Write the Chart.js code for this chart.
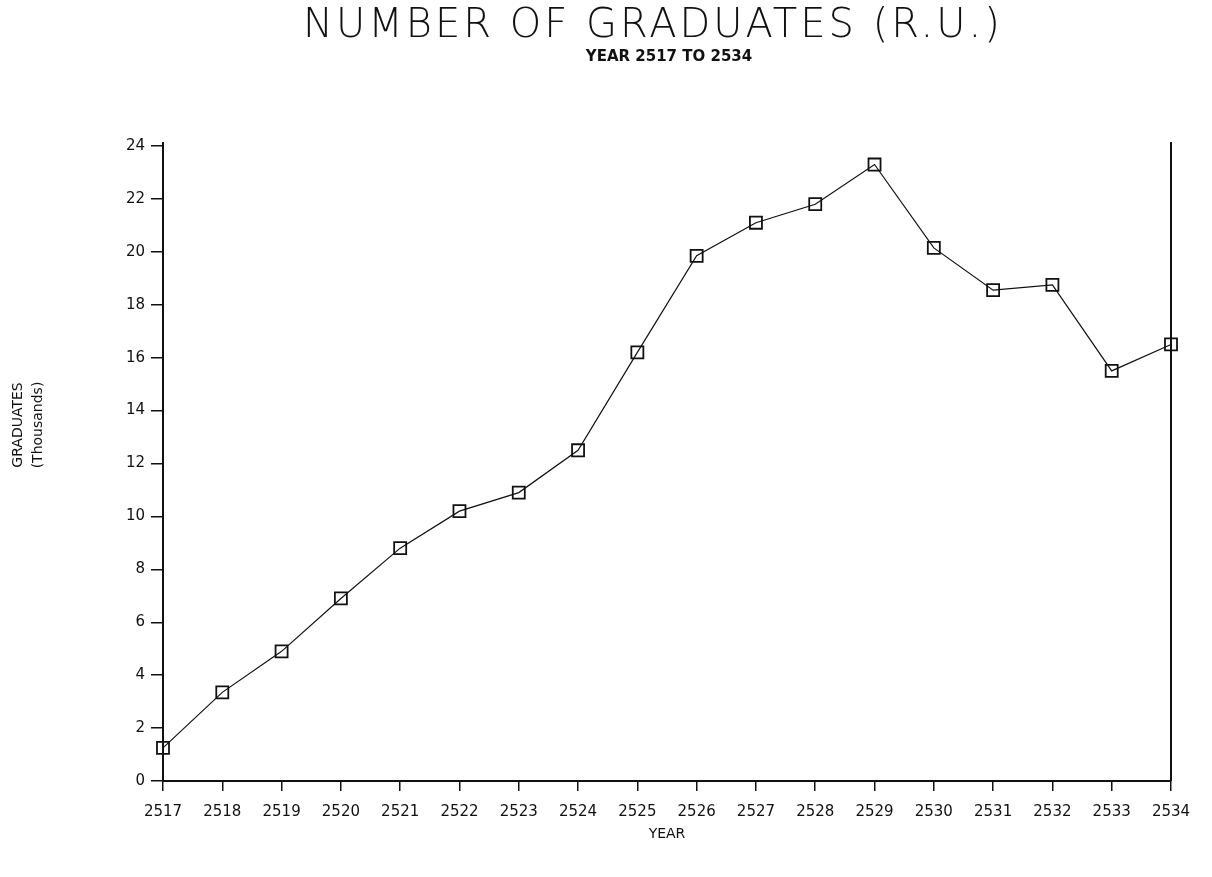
<!DOCTYPE html>
<html>
<head>
<meta charset="utf-8">
<script src="https://cdn.jsdelivr.net/npm/chart.js@4.4.0/dist/chart.umd.min.js"></script>
<style>
  html, body { margin: 0; padding: 0; background: #fff; }
  #wrap { width: 1212px; height: 877px; position: relative; }
</style>
</head>
<body>
<div id="wrap"><canvas id="gradChart"></canvas></div>
<script>
// years on the x axis
const years = ['2517', '2518', '2519', '2520', '2521', '2522', '2523', '2524', '2525',
  '2526', '2527', '2528', '2529', '2530', '2531', '2532', '2533', '2534'];
// graduates, thousands
const graduates = [1.25, 3.35, 4.9, 6.9, 8.8, 10.2, 10.9, 12.5, 16.2,
  19.85, 21.1, 21.8, 23.3, 20.15, 18.55, 18.75, 15.5, 16.5];
// y axis range
const yMin = 0;
const yMax = 24;
const yStep = 2;

const titleText = 'NUMBER OF GRADUATES (R.U.)';
const subtitleText = 'YEAR 2517 TO 2534';
const xTitleText = 'YEAR';
const yTitleLines = ['GRADUATES', '(Thousands)'];

const INK = '#111';

const GradChart = {
  /** titles and the right frame line, drawn at fixed spots */
  _decor: {
    id: 'decor',
    afterDraw(chart) {
      const { ctx, chartArea: a } = chart;
      ctx.save();
      ctx.strokeStyle = INK;
      ctx.lineWidth = 2;
      ctx.beginPath();
      ctx.moveTo(a.right, a.top - 4);
      ctx.lineTo(a.right, a.bottom);
      ctx.moveTo(a.left, a.top - 4);
      ctx.lineTo(a.left, a.top);
      ctx.stroke();

      ctx.fillStyle = INK;
      ctx.textAlign = 'center';
      ctx.textBaseline = 'middle';
      ctx.font = '200 40px "DejaVu Sans"';
      ctx.letterSpacing = '3px';
      ctx.fillText(titleText, 653, 27);

      ctx.letterSpacing = '0px';
      ctx.font = 'bold 15px "DejaVu Sans"';
      ctx.fillText(subtitleText, 669, 57);

      // rotated y title, two lines
      ctx.font = '14px "DejaVu Sans"';
      ctx.translate(18, 425);
      ctx.rotate(-Math.PI / 2);
      ctx.fillText(yTitleLines[0], 0, 0);
      ctx.fillText(yTitleLines[1], 0, 20);
      ctx.restore();
    }
  },

  render() {
    const canvas = document.getElementById('gradChart');
    const tickFont = { family: "'DejaVu Sans', sans-serif", size: 15 };

    return new Chart(canvas, {
      type: 'line',
      data: {
        labels: years,
        datasets: [{
          data: graduates,
          borderColor: INK,
          borderWidth: 1.2,
          tension: 0,
          pointStyle: 'rect',
          pointRadius: 8.5,
          pointBorderWidth: 1.8,
          pointBorderColor: INK,
          pointBackgroundColor: 'rgba(0,0,0,0)'
        }]
      },
      options: {
        responsive: true,
        maintainAspectRatio: false,
        animation: false,
        layout: { padding: { top: 146, right: 41, bottom: 0, left: 0 } },
        plugins: {
          legend: { display: false },
          tooltip: { enabled: false }
        },
        scales: {
          x: {
            offset: false,
            afterFit: s => { s.height = 96; },
            border: { display: true, color: INK, width: 2 },
            grid: { display: true, drawOnChartArea: false, drawTicks: true, tickLength: 10, color: INK, lineWidth: 1.5 },
            ticks: { color: INK, font: tickFont, padding: 12, maxRotation: 0, autoSkip: false },
            title: { display: true, text: xTitleText, color: INK, font: { family: "'DejaVu Sans', sans-serif", size: 14 }, padding: { top: 0, bottom: 34 } }
          },
          y: {
            min: yMin,
            max: yMax,
            afterFit: s => { s.width = 163; },
            border: { display: true, color: INK, width: 2 },
            grid: { display: true, drawOnChartArea: false, drawTicks: true, tickLength: 12, color: INK, lineWidth: 1.5 },
            ticks: { stepSize: yStep, color: INK, font: tickFont, padding: 6 }
          }
        }
      },
      plugins: [this._decor]
    });
  }
};

GradChart.render();
</script>
</body>
</html>
